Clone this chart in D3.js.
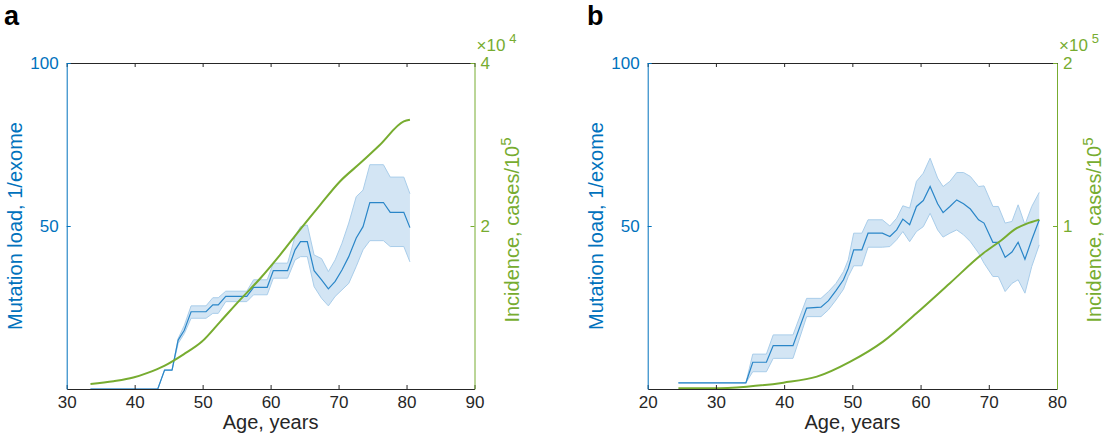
<!DOCTYPE html>
<html><head><meta charset="utf-8">
<script src="https://cdn.jsdelivr.net/npm/d3@7"></script>
<style>
body{margin:0;background:#fff;}
text{font-family:"Liberation Sans",Arial,Helvetica,sans-serif;}
</style></head>
<body><svg id="c" width="1106" height="433"></svg>
<script>
// ---- Panel a data ----
const aAge   = [33.5,43.4,44.4,45.5,46.4,47.3,48.3,50.5,51.5,52.3,53.4,56.5,57.5,59.5,60.4,62.5,63.6,64.4,65.4,66.4,67.5,68.5,69.5,70.5,71.5,72.6,73.6,74.6,76.6,77.6,79.6,80.5];
const aLoad  = [0,0,5.8,5.8,15,18,23.7,23.7,25.8,25.8,28.4,28.4,31.2,31.2,36.3,36.3,42.7,45.2,45.2,36.3,33.5,30.7,33,36.5,40.6,46.3,49.8,57.2,57.2,54.2,54.2,49.5];
const aUpper = [0,0,5.8,5.8,15.5,19.5,25.5,25.5,28,28,30,30,33.5,33.5,38.6,38.6,46.8,49.8,50.3,41.1,40,36,39.6,44.7,50.9,59,61,68.8,68.8,65,65,59.9];
const aLower = [0,0,5.8,5.8,14,17,21.7,21.7,23.2,23.2,26.8,26.8,28.9,28.9,34,34,39.6,40.6,40.6,31.4,27.8,25.5,28.4,30.4,32.4,37.6,42.7,45.5,45.5,43.7,43.7,39];
const aIncAge = [33.5,36.9,39.8,41.8,44.5,47.2,49.9,52.6,55.5,58.5,61.4,64.3,67.3,70.2,73.2,76.1,79.6,80.5];
const aInc    = [614,950,1400,1950,2900,4250,5814,8270,10931,13593,16459,19529,22600,25466,27717,29969,32836,33040];

// ---- Panel b data ----
const bAge   = [24.5,34.4,35.4,37.4,38.4,41.3,43.3,45.4,46.5,47.6,48.7,49.4,50.2,51.4,52.3,54.4,55.5,56.5,57.4,58.4,59.4,60.4,61.4,62.5,63.3,64.3,65.3,66.3,67.3,68.5,69.3,70.6,71.4,72.4,73.4,74.3,75.3,76.3,77.4];
const bLoad  = [1.9,1.9,8.2,8.2,13.3,13.3,24.8,25.1,27.1,30.2,33.5,37,42.7,42.7,47.8,47.8,46.8,48.8,52.1,50.4,56,57.8,62.1,56.8,54.1,56,58,56.8,55.2,51.9,50.9,45,45,40.4,42,45,39.8,45.8,51.9];
const bUpper = [1.9,1.9,10.7,10.7,16.6,16.6,27.8,27.8,29.9,32.4,36,39.6,47.8,47.8,51.9,51.9,50,52.4,56.2,55.5,63.7,66.2,70.8,64.7,62.1,63.7,66.4,66.4,65.2,62.1,62.3,56,56,50.9,51.4,56.5,50.4,56,60.3];
const bLower = [1.9,1.9,5.3,5.3,9.4,9.4,22.2,22.2,24.3,27.3,30.6,34.5,37.8,37.8,43.5,43.5,43.7,45.8,48.3,45.2,48.3,49.8,53.9,48.8,46.6,47.8,48.8,47.3,45.2,41.7,38.6,34.5,34.5,29.9,32.4,33.5,29.4,37.6,44.2];
const bIncAge = [24.5,29.6,34.5,39.9,44.8,49.7,54.5,59.4,64.3,69.2,71.6,74.1,75.5,77.4];
const bInc    = [400,400,1400,3900,7570,16790,29070,46470,64890,83320,90480,98670,101330,103790];

// ---- Axis / tick labels ----
const aXTicks = [30,40,50,60,70,80,90];
const bXTicks = [20,30,40,50,60,70,80];
const leftTicks = [50,100];
const aRightTicks = [2,4];   // x 10^4
const bRightTicks = [1,2];   // x 10^5

const BLUE = "#0072BD", GREEN = "#77AC30", AX = "#262626";
const svg = d3.select("#c");

function panel(o){
  const g = svg.append("g");
  const x = d3.scaleLinear().domain(o.xDom).range([o.x0, o.x1]);
  const yL = d3.scaleLinear().domain([0,100]).range([389,63]);
  const yR = d3.scaleLinear().domain([0,o.rMax]).range([389,63]);
  const yRt = d3.scaleLinear().domain([0,o.rMax/o.exp]).range([389,63]);

  // band
  const pts = o.age.map((a,i)=>({a, v:o.load[i], u:o.upper[i], l:o.lower[i]}));
  g.append("path").datum(pts)
    .attr("d", d3.area().x(d=>x(d.a)).y0(d=>yL(d.l)).y1(d=>yL(d.u)))
    .attr("fill", "#d3e5f4").attr("stroke","none");
  g.append("path").datum(pts).attr("d", d3.line().x(d=>x(d.a)).y(d=>yL(d.u)))
    .attr("fill","none").attr("stroke","#a9cdea").attr("stroke-width",1);
  g.append("path").datum(pts).attr("d", d3.line().x(d=>x(d.a)).y(d=>yL(d.l)))
    .attr("fill","none").attr("stroke","#a9cdea").attr("stroke-width",1);
  g.append("path").datum(pts).attr("d", d3.line().x(d=>x(d.a)).y(d=>yL(d.v)))
    .attr("fill","none").attr("stroke", "#2a86c8").attr("stroke-width",1.2);

  // incidence
  const ip = o.incAge.map((a,i)=>({a, v:o.inc[i]}));
  g.append("path").datum(ip).attr("d", d3.line().x(d=>x(d.a)).y(d=>yR(d.v)).curve(d3.curveMonotoneX))
    .attr("fill","none").attr("stroke", GREEN).attr("stroke-width",2);

  // bottom axis
  const xb = g.append("g").attr("transform","translate(0,389)")
    .call(d3.axisBottom(x).tickValues(o.xTicks).tickSizeInner(-4).tickSizeOuter(0).tickPadding(7));
  xb.select(".domain").attr("stroke",AX);
  xb.selectAll(".tick line").attr("stroke",AX);
  xb.selectAll("text").attr("fill",AX).attr("font-size",17);
  // top axis
  const xt = g.append("g").attr("transform","translate(0,63)")
    .call(d3.axisTop(x).tickValues(o.xTicks).tickSizeInner(-4).tickSizeOuter(0).tickFormat(""));
  xt.select(".domain").attr("stroke",AX);
  xt.selectAll(".tick line").attr("stroke",AX);

  // left axis
  const yl = g.append("g").attr("transform",`translate(${o.x0},0)`)
    .call(d3.axisLeft(yL).tickValues(leftTicks).tickSizeInner(-4).tickSizeOuter(0).tickPadding(8));
  yl.select(".domain").attr("stroke",BLUE);
  yl.selectAll(".tick line").attr("stroke",BLUE);
  yl.selectAll("text").attr("fill",BLUE).attr("font-size",17);

  // right axis
  const yr = g.append("g").attr("transform",`translate(${o.x1},0)`)
    .call(d3.axisRight(yRt).tickValues(o.rTicks).tickFormat(d3.format("d")).tickSizeInner(-4).tickSizeOuter(0).tickPadding(6));
  yr.select(".domain").attr("stroke",GREEN);
  yr.selectAll(".tick line").attr("stroke",GREEN);
  yr.selectAll("text").attr("fill",GREEN).attr("font-size",17);

  // exponent
  const ex = g.append("text").attr("x", o.x1+2).attr("y", 51).attr("fill",GREEN).attr("font-size",17);
  ex.append("tspan").text("\u00d710");
  ex.append("tspan").attr("dy",-8).attr("dx",4).attr("font-size",13).text(o.expLabel);

  // axis labels
  g.append("text").attr("x",(o.x0+o.x1)/2).attr("y",429).attr("text-anchor","middle")
    .attr("fill",AX).attr("font-size",20).text("Age, years");
  g.append("text").attr("transform",`translate(${o.x0-45},226) rotate(-90)`).attr("text-anchor","middle")
    .attr("fill",BLUE).attr("font-size",20).text("Mutation load, 1/exome");
  const rl = g.append("text").attr("transform",`translate(${o.x1+44},230) rotate(-90)`).attr("text-anchor","middle")
    .attr("fill",GREEN).attr("font-size",20);
  rl.append("tspan").text("Incidence, cases/10");
  rl.append("tspan").attr("dy",-8).attr("font-size",15).text("5");

  g.append("text").attr("x",o.lx).attr("y",25).attr("font-size",27).attr("font-weight","bold")
    .attr("fill","#000").text(o.letter);
}

panel({xDom:[30,90], x0:66.7, x1:474.5, age:aAge, load:aLoad, upper:aUpper, lower:aLower,
  incAge:aIncAge, inc:aInc, rMax:40000, exp:1e4, expLabel:"4", rTicks:aRightTicks, xTicks:aXTicks, letter:"a", lx:4});
panel({xDom:[20,80], x0:647.7, x1:1057, age:bAge, load:bLoad, upper:bUpper, lower:bLower,
  incAge:bIncAge, inc:bInc, rMax:200000, exp:1e5, expLabel:"5", rTicks:bRightTicks, xTicks:bXTicks, letter:"b", lx:587});
</script></body></html>
